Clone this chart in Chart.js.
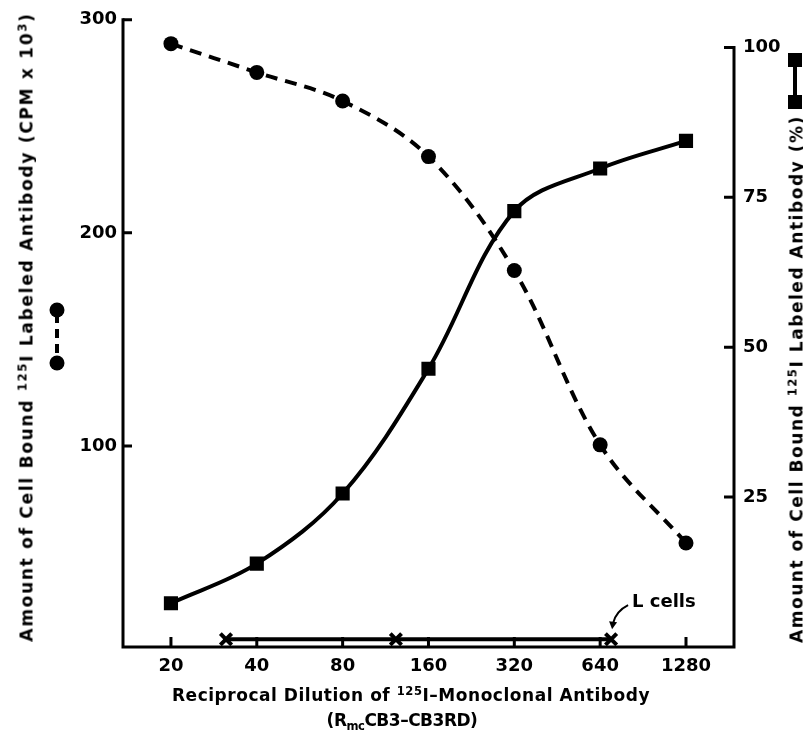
<!DOCTYPE html>
<html>
<head>
<meta charset="utf-8">
<script src="https://cdn.jsdelivr.net/npm/chart.js@4.4.1/dist/chart.umd.min.js"></script>
<style>
  html, body { margin: 0; padding: 0; background: #fff; overflow: hidden; }
  #wrap { position: relative; width: 803px; height: 738px; }
  .title {
    position: absolute; white-space: nowrap; line-height: 1; color: #000;
    font-family: "DejaVu Sans", sans-serif; font-weight: bold; font-size: 17px;
    transform: translate(-50%, -50%);
  }
  .title.rot { transform: translate(-50%, -50%) rotate(-90deg); }
  .sup { font-size: 0.68em; position: relative; top: -0.55em; }
  .sub { font-size: 0.68em; position: relative; top: 0.35em; }
</style>
</head>
<body>
<div id="wrap">
  <canvas id="chart" width="803" height="738"></canvas>
  <div class="title rot" data-w="629" style="left:27px; top:327px">Amount of Cell Bound <span class="sup">125</span>I Labeled Antibody (CPM x 10<span class="sup">3</span>)</div>
  <div class="title rot" data-w="528" style="left:797px; top:379px">Amount of Cell Bound <span class="sup">125</span>I Labeled Antibody (%)</div>
  <div class="title" data-w="478" style="left:411px; top:695px">Reciprocal Dilution of <span class="sup">125</span>I–Monoclonal Antibody</div>
  <div class="title" data-w="151" style="left:402px; top:720px">(R<span class="sub">mc</span>CB3–CB3RD)</div>
</div>
<script>
// Data
const dilutions = [20, 40, 80, 160, 320, 640, 1280];
const boundCpm = [288.8, 275.3, 261.9, 235.8, 182.3, 100.5, 54.4];   // left axis, CPM x 10^3
const boundPct = [7.3, 13.9, 25.6, 46.4, 72.7, 79.8, 84.4];          // right axis, %
const lCellsDilutions = [31.2, 123, 699];
const lCellsPct = [1.3, 1.3, 1.3];
const cpmTicks = [100, 200, 300];
const pctTicks = [25, 50, 75, 100];

const tickFont = { family: '"DejaVu Sans", sans-serif', size: 18, weight: 'bold' };

// stretch titles to the width they have in the figure
document.querySelectorAll('.title').forEach(el => {
  const target = parseFloat(el.dataset.w);
  const extra = target - el.offsetWidth;
  el.style.letterSpacing = (extra / el.textContent.length) + 'px';
});

// Axis lines, inward ticks, legend keys and the L cells note
const framePlugin = {
  id: 'frame',
  afterDraw(chart) {
    const { ctx, chartArea: a, scales } = chart;
    const x = scales.x, yL = scales.yL, yR = scales.yR;
    ctx.save();
    ctx.strokeStyle = '#000';
    ctx.fillStyle = '#000';
    ctx.lineWidth = 3;

    ctx.beginPath();
    ctx.moveTo(a.left, a.top - 1.5);
    ctx.lineTo(a.left, a.bottom + 1.5);
    ctx.moveTo(a.left - 1.5, a.bottom);
    ctx.lineTo(a.right + 1.5, a.bottom);
    ctx.moveTo(a.right, a.bottom + 1.5);
    ctx.lineTo(a.right, yR.getPixelForValue(100) - 1.5);
    ctx.stroke();

    ctx.beginPath();
    cpmTicks.forEach(v => {
      const p = yL.getPixelForValue(v);
      ctx.moveTo(a.left, p);
      ctx.lineTo(a.left + 9, p);
    });
    pctTicks.forEach(v => {
      const p = yR.getPixelForValue(v);
      ctx.moveTo(a.right, p);
      ctx.lineTo(a.right - 10, p);
    });
    dilutions.forEach(v => {
      const p = x.getPixelForValue(v);
      ctx.moveTo(p, a.bottom);
      ctx.lineTo(p, a.bottom - 10);
    });
    ctx.stroke();

    // legend key, left axis: dashed line with dots
    ctx.lineWidth = 4;
    ctx.setLineDash([9, 6]);
    ctx.beginPath();
    ctx.moveTo(57, 314);
    ctx.lineTo(57, 361);
    ctx.stroke();
    ctx.setLineDash([]);
    [310, 363].forEach(cy => {
      ctx.beginPath();
      ctx.arc(57, cy, 7.5, 0, Math.PI * 2);
      ctx.fill();
    });

    // legend key, right axis: solid line with squares
    ctx.beginPath();
    ctx.moveTo(795, 60);
    ctx.lineTo(795, 102);
    ctx.stroke();
    [60, 102].forEach(cy => ctx.fillRect(788, cy - 7, 14, 14));

    // L cells note with a curved arrow
    const pts = chart.getDatasetMeta(2).data;
    const last = pts[pts.length - 1];
    ctx.font = 'bold 18px "DejaVu Sans", sans-serif';
    ctx.textAlign = 'left';
    ctx.textBaseline = 'middle';
    ctx.fillText('L cells', last.x + 21, last.y - 37);
    ctx.lineWidth = 2;
    ctx.beginPath();
    ctx.moveTo(last.x + 17, last.y - 34);
    ctx.quadraticCurveTo(last.x + 5, last.y - 28, last.x + 2, last.y - 16);
    ctx.stroke();
    ctx.beginPath();
    ctx.moveTo(last.x - 2, last.y - 18);
    ctx.lineTo(last.x + 6, last.y - 17);
    ctx.lineTo(last.x + 1, last.y - 10);
    ctx.closePath();
    ctx.fill();
    ctx.restore();
  }
};

const ctx = document.getElementById('chart').getContext('2d');
const chart = new Chart(ctx, {
  type: 'line',
  data: {
    datasets: [
      {
        label: 'Cell bound (CPM x 10³)',
        data: dilutions.map((d, i) => ({ x: d, y: boundCpm[i] })),
        yAxisID: 'yL',
        borderColor: '#000',
        backgroundColor: '#000',
        borderWidth: 4,
        borderDash: [12, 8],
        pointStyle: 'circle',
        pointRadius: 7.5,
        pointBorderWidth: 0,
        tension: 0.35
      },
      {
        label: 'Cell bound (%)',
        data: dilutions.map((d, i) => ({ x: d, y: boundPct[i] })),
        yAxisID: 'yR',
        borderColor: '#000',
        backgroundColor: '#000',
        borderWidth: 4,
        pointStyle: 'rect',
        pointRadius: 10,
        pointBorderWidth: 0,
        tension: 0.35
      },
      {
        label: 'L cells',
        data: lCellsDilutions.map((d, i) => ({ x: d, y: lCellsPct[i] })),
        yAxisID: 'yR',
        borderColor: '#000',
        backgroundColor: '#000',
        borderWidth: 4,
        pointStyle: 'crossRot',
        pointRadius: 8,
        pointBorderWidth: 4,
        tension: 0
      }
    ]
  },
  options: {
    responsive: false,
    animation: false,
    layout: { padding: { top: 14, left: 0, right: 0, bottom: 0 } },
    plugins: { legend: { display: false }, tooltip: { enabled: false } },
    scales: {
      x: {
        type: 'logarithmic',
        position: 'bottom',
        min: 13.58,
        max: 1886,
        grid: { display: false, drawTicks: false },
        border: { display: false },
        afterBuildTicks: s => { s.ticks = dilutions.map(v => ({ value: v })); },
        afterFit: s => { s.height = 91; },
        ticks: {
          color: '#000', font: tickFont, padding: 9,
          autoSkip: false, maxRotation: 0,
          callback: v => String(v)
        }
      },
      yL: {
        type: 'linear',
        position: 'left',
        min: 5.6,
        max: 300,
        grid: { display: false, drawTicks: false },
        border: { display: false },
        afterBuildTicks: s => { s.ticks = cpmTicks.map(v => ({ value: v })); },
        afterFit: s => { s.width = 123; },
        ticks: { color: '#000', font: tickFont, padding: 6, callback: v => String(v) }
      },
      yR: {
        type: 'linear',
        position: 'right',
        min: 0,
        max: 104.6,
        grid: { display: false, drawTicks: false },
        border: { display: false },
        afterBuildTicks: s => { s.ticks = pctTicks.map(v => ({ value: v })); },
        afterFit: s => { s.width = 69; },
        ticks: { color: '#000', font: tickFont, padding: 9, callback: v => String(v) }
      }
    }
  },
  plugins: [framePlugin]
});
</script>
</body>
</html>
